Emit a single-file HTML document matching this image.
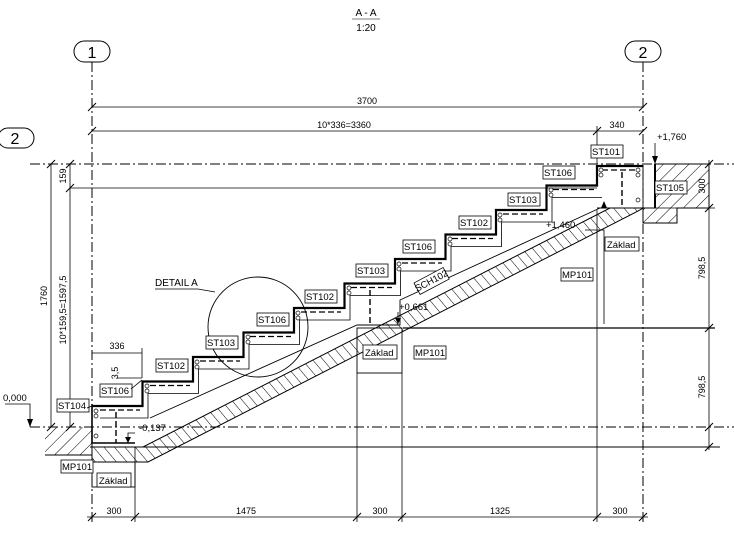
<!DOCTYPE html>
<html><head><meta charset="utf-8"><style>
html,body{margin:0;padding:0;background:#fff;}
svg{display:block;font-family:"Liberation Sans",sans-serif;}
</style></head><body>
<svg width="734" height="533" viewBox="0 0 734 533" xmlns="http://www.w3.org/2000/svg">
<defs>
<pattern id="h" patternUnits="userSpaceOnUse" width="9" height="9" patternTransform="rotate(45)">
<line x1="0" y1="0" x2="0" y2="9" stroke="#000" stroke-width="1"/>
</pattern>
<pattern id="h2" patternUnits="userSpaceOnUse" width="8" height="8" patternTransform="rotate(-40)">
<line x1="0" y1="0" x2="0" y2="8" stroke="#000" stroke-width="1"/>
</pattern>
</defs>
<g fill="#000" font-size="10">
<text x="366" y="16" text-anchor="middle">A - A</text>
<line x1="352" y1="19" x2="380" y2="19" stroke="#000" stroke-width="0.6"/>
<text x="366" y="31" text-anchor="middle">1:20</text>
</g>
<g stroke="#000" fill="#fff" stroke-width="1">
<rect x="74" y="41" width="36" height="21" rx="10.5"/>
<rect x="625" y="41" width="36" height="21" rx="10.5"/>
<rect x="-2" y="128" width="36" height="20" rx="10"/>
</g>
<g font-size="16" text-anchor="middle">
<text x="92" y="58">1</text><text x="643" y="58">2</text><text x="15" y="144">2</text>
</g>
<g stroke="#000" stroke-width="1" stroke-dasharray="10,3,2,3" fill="none">
<line x1="92" y1="62" x2="92" y2="522"/>
<line x1="643" y1="62" x2="643" y2="522"/>
<line x1="30" y1="164" x2="734" y2="164"/>
<line x1="30" y1="427" x2="734" y2="427"/>
</g>
<g stroke="#000" stroke-width="0.8" fill="none">
<line x1="92" y1="107" x2="643" y2="107"/>
<line x1="92" y1="131" x2="643" y2="131"/>
<line x1="597" y1="126" x2="597" y2="164"/>
<line x1="51" y1="164" x2="51" y2="427"/>
<line x1="70" y1="164" x2="70" y2="427"/>
<line x1="70" y1="188" x2="597" y2="188"/>
<line x1="709" y1="160" x2="709" y2="450"/>
<line x1="655" y1="208" x2="715" y2="208"/>
<line x1="87" y1="517" x2="648" y2="517"/>
<line x1="135" y1="447" x2="135" y2="522"/>
<line x1="357" y1="373" x2="357" y2="522"/>
<line x1="402" y1="373" x2="402" y2="522"/>
<line x1="597" y1="210" x2="597" y2="522"/>
<line x1="92" y1="353" x2="142" y2="353"/>
<line x1="142" y1="348" x2="142" y2="378"/>
<line x1="117" y1="378" x2="142" y2="378"/>
<line x1="90" y1="447" x2="720" y2="447" stroke-width="1"/>
<line x1="403" y1="328" x2="715" y2="328" stroke-width="1.3"/>
</g>
<g stroke="#000" stroke-width="1">
<path d="M88 111l8-8M639 111l8-8M88 135l8-8M593 135l8-8M639 135l8-8M47 168l8-8M47 431l8-8M66 168l8-8M66 192l8-8M66 431l8-8M705 168l8-8M705 212l8-8M705 332l8-8M705 431l8-8M705 451l8-8M88 521l8-8M131 521l8-8M353 521l8-8M398 521l8-8M593 521l8-8M639 521l8-8"/>
</g>
<g font-size="9" text-anchor="middle">
<text x="367" y="104">3700</text>
<text x="344" y="128">10*336=3360</text>
<text x="617" y="128">340</text>
<text x="117" y="349">336</text>
<text x="114" y="514">300</text><text x="246" y="514">1475</text><text x="380" y="514">300</text><text x="500" y="514">1325</text><text x="620" y="514">300</text>
<text transform="translate(47,296) rotate(-90)">1760</text>
<text transform="translate(66,310) rotate(-90)">10*159,5=1597,5</text>
<text transform="translate(66,176) rotate(-90)">159</text>
<text transform="translate(705,186) rotate(-90)">300</text>
<text transform="translate(705,268) rotate(-90)">798,5</text>
<text transform="translate(705,387) rotate(-90)">798,5</text>
<text transform="translate(118,373) rotate(-90)">3,5</text>
</g>
<g stroke="#000" stroke-width="1">
<path d="M45 427H92V455H45Z" fill="url(#h)" stroke="none"/>
<line x1="45" y1="455" x2="92" y2="455"/>
<path d="M655 164H709V208H677V223H643V208H655Z" fill="url(#h)"/>
<line x1="655" y1="164" x2="655" y2="208" stroke-width="2"/>
<path d="M92 447H143L610 208H643L640 210L148 462H92Z" fill="url(#h2)"/>
</g>
<g stroke="#000" stroke-width="0.9" fill="none">
<rect x="92" y="462" width="43" height="25"/>
<rect x="357" y="328" width="45" height="45"/>
<path d="M150 418L357 325H400V300L600 208"/>
<path d="M597 166H643V208H597"/>
<path d="M92 404V443H135" stroke-width="1.6"/>
<path d="M597 208H640"/>
</g>
<g stroke="#000" stroke-width="1.4" stroke-dasharray="6,3" fill="none">
<line x1="116" y1="412" x2="116" y2="443"/>
<line x1="370" y1="290" x2="370" y2="324"/>
<line x1="622" y1="172" x2="622" y2="207"/>
</g>
<g stroke="#000" fill="none">
<path d="M92 406H142.5V381.5H193V357H243.5V332.5H294V308H344.5V283.5H395V259H445.5V234.5H496V210H546.5V185.5H597V166H643" stroke-width="2.2"/>
<path d="M100 418H148V393.5H198.5V369H249V344.5H299.5V320H350V295.5H400.5V271H451V246.5H501.5V222H552V197.5H602" stroke-width="0.8"/>
<path d="M100 410H140M150 385.5H190M200 361H240M250 336.5H291M301 312H341M351 287.5H392M402 263H442M452 238.5H493M503 214H543M553 189.5H594M602 170H640" stroke-width="1.3" stroke-dasharray="6,3"/>
</g>
<g stroke="#000" stroke-width="0.7" fill="#fff">
<circle cx="96" cy="411" r="2"/><circle cx="96" cy="416" r="2"/><circle cx="96" cy="436" r="2"/>
<circle cx="147" cy="386" r="2"/><circle cx="147" cy="391" r="2"/>
<circle cx="197" cy="362" r="2"/><circle cx="197" cy="367" r="2"/>
<circle cx="248" cy="337" r="2"/><circle cx="248" cy="342" r="2"/>
<circle cx="298" cy="313" r="2"/><circle cx="298" cy="318" r="2"/>
<circle cx="349" cy="288" r="2"/><circle cx="349" cy="293" r="2"/>
<circle cx="399" cy="264" r="2"/><circle cx="399" cy="269" r="2"/>
<circle cx="450" cy="239" r="2"/><circle cx="450" cy="244" r="2"/>
<circle cx="500" cy="215" r="2"/><circle cx="500" cy="220" r="2"/>
<circle cx="551" cy="190" r="2"/><circle cx="551" cy="195" r="2"/>
<circle cx="601" cy="170" r="2"/><circle cx="601" cy="175" r="2"/>
<circle cx="638" cy="170" r="2"/><circle cx="638" cy="175" r="2"/><circle cx="638" cy="200" r="2"/>
</g>
<circle cx="258" cy="327" r="50" stroke="#000" stroke-width="0.9" fill="none"/>
<path d="M155 289H198L215 292" stroke="#000" stroke-width="0.8" fill="none"/>
<text x="155" y="286" font-size="10">DETAIL A</text>
<g font-size="9.5" stroke="#000" stroke-width="0.8">
<g fill="#fff">
<rect x="57" y="399" width="32" height="13"/><rect x="100" y="384" width="32" height="13"/>
<rect x="156" y="359" width="32" height="13"/><rect x="206" y="336" width="32" height="13"/>
<rect x="257" y="313" width="32" height="13"/><rect x="305" y="290" width="32" height="13"/>
<rect x="356" y="264" width="32" height="13"/><rect x="403" y="240" width="32" height="13"/>
<rect x="459" y="216" width="32" height="13"/><rect x="508" y="193" width="32" height="13"/>
<rect x="543" y="166" width="32" height="13"/><rect x="591" y="145" width="32" height="13"/>
<rect x="655" y="181" width="32" height="13"/>
<rect x="61" y="460" width="32" height="13"/><rect x="97" y="473" width="34" height="14"/>
<rect x="363" y="345" width="34" height="14"/><rect x="414" y="346" width="32" height="13"/>
<rect x="605" y="237" width="34" height="14"/><rect x="561" y="268" width="32" height="13"/>
<rect x="0" y="0" width="33" height="13" transform="translate(414,283) rotate(-28)"/>
</g>
<g fill="#000" stroke="none">
<text x="58" y="409">ST104</text><text x="101" y="394">ST106</text><text x="157" y="369">ST102</text>
<text x="207" y="346">ST103</text><text x="258" y="323">ST106</text><text x="306" y="300">ST102</text>
<text x="357" y="274">ST103</text><text x="404" y="250">ST106</text><text x="460" y="226">ST102</text>
<text x="509" y="203">ST103</text><text x="544" y="176">ST106</text><text x="592" y="155">ST101</text>
<text x="656" y="191">ST105</text><text x="62" y="470">MP101</text><text x="99" y="484">Základ</text>
<text x="365" y="356">Základ</text><text x="415" y="356">MP101</text>
<text x="607" y="248">Základ</text><text x="562" y="278">MP101</text>
<text transform="translate(417,292) rotate(-28)">SCH102</text>
<text x="3" y="401">0,000</text><text x="139" y="431">-0,137</text>
<text x="399" y="310">+0,661</text><text x="546" y="228">+1,460</text><text x="657" y="140">+1,760</text>
</g>
</g>
<g stroke="#000" stroke-width="0.8" fill="none">
<path d="M5 404H30V427"/><path d="M135 433H128V443"/><path d="M398 312V324"/><path d="M585 230H604V324"/>
<path d="M655 143V164"/><path d="M87 408L92 406"/><path d="M131 389L142 380"/>
</g>
<g fill="#000">
<path d="M27 419h6l-3 8z"/><path d="M125 437h6l-3 6z"/><path d="M395 318h6l-3 6z"/><path d="M652 156h6l-3 8z"/><path d="M601 208h6l-3-7z"/>
</g>
</svg>
</body></html>
